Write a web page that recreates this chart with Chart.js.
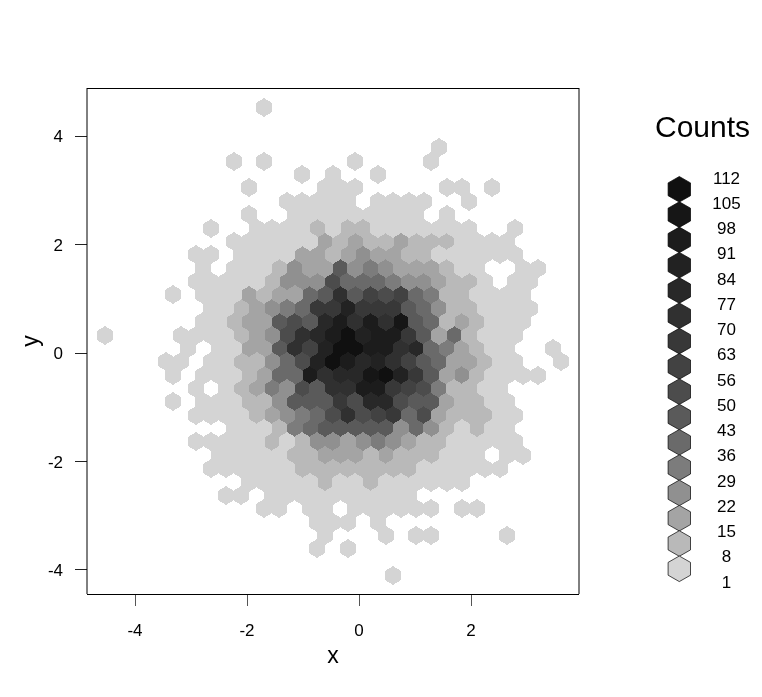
<!DOCTYPE html>
<html>
<head>
<meta charset="utf-8">
<title>Counts</title>
<script src="https://cdn.jsdelivr.net/npm/chart.js@4"></script>
<style>
  html, body { margin: 0; background: #fff; }
  canvas { display: block; }
</style>
</head>
<body>
<canvas id="hexChart" width="762" height="697"></canvas>
<script>
// Hex column centres (x units), half a column apart: odd rows use odd entries
const colX = [
    -4.559, -4.423, -4.287, -4.152, -4.016, -3.880, -3.745, -3.609, -3.473, -3.337, -3.202,
    -3.066, -2.930, -2.795, -2.659, -2.523, -2.388, -2.252, -2.116, -1.980, -1.845, -1.709,
    -1.573, -1.438, -1.302, -1.166, -1.031, -0.895, -0.759, -0.623, -0.488, -0.352, -0.216,
    -0.081, 0.055, 0.191, 0.327, 0.462, 0.598, 0.734, 0.869, 1.005, 1.141, 1.276, 1.412,
    1.548, 1.684, 1.819, 1.955, 2.091, 2.226, 2.362, 2.498, 2.633, 2.769, 2.905, 3.041,
    3.176, 3.312, 3.448, 3.583
];
const colOffset = 21; // colX index of the column that rowStart calls 0

// Hex row centres (y units), top to bottom
const rowY = [
    4.526, 4.279, 4.033, 3.786, 3.539, 3.293, 3.046, 2.799, 2.553, 2.306, 2.059, 1.813,
    1.566, 1.319, 1.073, 0.826, 0.579, 0.332, 0.086, -0.161, -0.408, -0.654, -0.901, -1.148,
    -1.394, -1.641, -1.888, -2.134, -2.381, -2.628, -2.874, -3.121, -3.368, -3.615, -3.861, -4.108
];

// First column of each row
const rowStart = [
    0, 0, 0, 23, -4, 5, -2, 3, -2, -7, -4, -9, -8, -9, -12, -7, -8, -21,
    -10, -13, -12, -9, -12, -9, -4, -9, -6, -7, -2, -5, 0, 7, 8, 7, 0, 17
];

// Counts read per row, every second column from rowStart (0 = empty)
const rowCounts = [
    [3],
    [],
    [],
    [3],
    [3,0,3,0,0,0,0,0,3,0,0,0,0,3],
    [3,0,3,0,0,3],
    [3,0,0,0,0,3,3,3,0,0,0,0,0,3,3,0,3],
    [3,3,3,3,3,0,3,3,3,3,0,0,3],
    [3,0,0,3,3,3,3,3,3,3,3,3,0,3],
    [3,0,0,3,3,3,3,11,3,11,11,3,3,3,3,3,3,3,0,0,3],
    [3,3,3,3,3,3,18,11,18,11,11,18,11,11,11,3,3,3,3],
    [3,3,0,3,3,3,3,18,18,11,18,25,18,18,11,11,3,3,3,3,3,3],
    [3,0,3,3,3,11,25,18,18,46,25,32,25,18,18,18,11,3,3,0,0,3,3],
    [3,3,3,3,3,11,25,25,25,53,39,39,39,32,25,25,18,11,11,3,0,3,3],
    [3,0,3,3,3,18,11,18,18,39,46,73,46,59,53,59,39,32,11,11,3,3,3,3],
    [3,3,11,18,25,32,39,66,66,87,66,66,66,46,39,25,11,11,3,3,3,3],
    [3,3,11,18,18,46,53,46,80,94,73,94,73,101,46,39,11,18,11,3,3,3],
    [3,0,0,0,0,3,3,3,3,11,18,25,53,73,80,94,108,87,94,94,66,46,18,39,11,3,3,3],
    [3,0,3,3,18,18,46,73,59,87,108,108,94,94,73,80,39,32,18,11,3,3,0,0,3],
    [3,3,0,3,3,11,11,25,39,53,87,108,94,80,87,73,59,46,39,18,18,11,3,3,0,0,3],
    [3,0,3,3,3,11,18,39,39,94,73,80,80,101,108,87,66,46,18,25,11,3,3,3,3],
    [3,0,3,11,18,32,25,53,46,73,73,94,94,66,59,53,32,11,11,3,3],
    [3,0,3,3,3,11,11,25,46,46,46,66,53,80,80,53,46,46,18,11,11,3,3],
    [3,3,3,3,11,18,25,32,39,53,73,53,59,66,39,53,18,11,11,11,3,3],
    [3,3,3,11,32,39,46,46,46,46,46,25,39,25,11,3,11,3,3],
    [3,3,3,3,3,11,3,11,25,25,18,25,32,25,18,11,11,3,3,3,3,3],
    [3,3,3,3,3,11,11,18,18,18,11,18,11,11,11,3,3,3,0,3,3],
    [3,3,3,3,3,3,11,11,11,11,11,11,11,11,3,3,3,3,3,3],
    [3,3,3,3,3,11,3,3,11,3,3,3,3,3,3],
    [3,3,0,3,3,3,3,3,3,3,3,3,3],
    [3,3,0,3,3,0,3,3,3,3,3,3,0,3,3],
    [3,3,3,0,3],
    [3,0,0,0,3,0,3,3,0,0,0,0,3],
    [3,0,3],
    [],
    [3]
];

// Legend: lower edge of each grey class, and its grey
const countBreaks = [1, 8, 15, 22, 29, 36, 43, 50, 56, 63, 70, 77, 84, 91, 98, 105, 112];
const binColors = [
    '#d4d4d4', '#b9b9b9', '#a4a4a4', '#909090', '#7c7c7c', '#6a6a6a', '#5a5a5a', '#4c4c4c',
    '#424242', '#383838', '#303030', '#282828', '#222222', '#1c1c1c', '#161616', '#101010'
];
const xTickValues = [-4, -2, 0, 2];
const yTickValues = [-4, -2, 0, 2, 4];

const FONT = '"Liberation Sans", Arial, sans-serif';

function traceHex(g, cx, cy, w, h) {
    g.beginPath();
    g.moveTo(cx, cy - h / 2);
    g.lineTo(cx + w / 2, cy - h / 4);
    g.lineTo(cx + w / 2, cy + h / 4);
    g.lineTo(cx, cy + h / 2);
    g.lineTo(cx - w / 2, cy + h / 4);
    g.lineTo(cx - w / 2, cy - h / 4);
    g.closePath();
}

// Canvas used as point style for one grey class.
// Alpha is made hard so neighbouring cells leave no pale seams.
const hexImage = (color, w, h) => {
    const c = document.createElement('canvas');
    c.width = Math.ceil(w) + 4;
    c.height = Math.ceil(h) + 4;
    const g = c.getContext('2d');
    traceHex(g, c.width / 2, c.height / 2, w, h);
    g.fillStyle = color;
    g.fill();
    const img = g.getImageData(0, 0, c.width, c.height);
    const v = parseInt(color.slice(1, 3), 16);
    for (let i = 0; i < img.data.length; i += 4) {
        img.data[i] = img.data[i + 1] = img.data[i + 2] = v;
        img.data[i + 3] = img.data[i + 3] >= 100 ? 255 : 0;
    }
    g.putImageData(img, 0, 0);
    return c;
};

// Sort cells into one dataset per grey class
const binPoints = binColors.map(() => []);
rowCounts.forEach((counts, r) => {
    counts.forEach((count, i) => {
        if (!count) return;
        let bin = 0;
        while (bin < binColors.length - 1 && count >= countBreaks[bin + 1]) bin++;
        binPoints[bin].push({ x: colX[colOffset + rowStart[r] + i * 2], y: rowY[r], count });
    });
});

const datasets = binColors.map((color, i) => ({
    label: countBreaks[i] + '',
    data: binPoints[i],
    pointStyle: hexImage(color, 15.8, 18.4),
    pointRadius: 8,
    pointHoverRadius: 8,
    showLine: false
}));

// Box around the plot and the Counts key on the right
const framePlugin = {
    id: 'frame',
    beforeDatasetsDraw(chart) {
        chart.ctx.imageSmoothingEnabled = false;
    },
    afterDatasetsDraw(chart) {
        const { ctx, chartArea: a } = chart;
        ctx.save();
        ctx.strokeStyle = '#000';
        ctx.lineWidth = 1;
        ctx.beginPath();
        ctx.moveTo(a.left, a.top + 0.5);
        ctx.lineTo(a.right, a.top + 0.5);
        ctx.moveTo(a.right, a.top);
        ctx.lineTo(a.right, a.bottom);
        ctx.moveTo(a.right, a.bottom + 0.5);
        ctx.lineTo(a.left, a.bottom + 0.5);
        ctx.moveTo(a.left, a.bottom);
        ctx.lineTo(a.left, a.top);
        ctx.stroke();
        ctx.restore();
    }
};

const keyPlugin = {
    id: 'countsKey',
    afterDraw(chart) {
        const { ctx } = chart;
        ctx.save();
        ctx.fillStyle = '#000';
        ctx.textAlign = 'center';
        ctx.textBaseline = 'middle';
        ctx.font = '30px ' + FONT;
        ctx.fillText('Counts', 702.5, 129);
        // darkest on top
        binColors.slice().reverse().forEach((color, i) => {
            traceHex(ctx, 679.3, 189.3 + i * 25.3, 22.4, 25.6);
            ctx.fillStyle = color;
            ctx.fill();
            ctx.strokeStyle = '#000';
            ctx.lineWidth = 0.7;
            ctx.stroke();
        });
        ctx.fillStyle = '#000';
        ctx.font = '17px ' + FONT;
        countBreaks.slice().reverse().forEach((label, i) => {
            ctx.fillText(String(label), 726.5, 179 + i * 25.25);
        });
        ctx.restore();
    }
};

new Chart(document.getElementById('hexChart'), {
    type: 'scatter',
    data: { datasets },
    plugins: [framePlugin, keyPlugin],
    options: {
        responsive: false,
        animation: false,
        devicePixelRatio: 1,
        layout: { padding: { top: 88, right: 183, bottom: 0, left: 0 } },
        plugins: { legend: { display: false }, tooltip: { enabled: false } },
        scales: {
            x: {
                min: -4.875,
                max: 3.911,
                afterFit: (s) => { s.height = 103; },
                afterBuildTicks: (s) => { s.ticks = xTickValues.map((value) => ({ value })); },
                border: { display: false },
                grid: { drawOnChartArea: false, tickLength: 12, color: '#555' },
                ticks: { color: '#000', padding: 15, maxRotation: 0, labelOffset: -1, font: { family: FONT, size: 17 } },
                title: { display: true, text: 'x', color: '#000', padding: { top: 0, bottom: 27 }, font: { family: FONT, size: 23 } }
            },
            y: {
                min: -4.446,
                max: 4.889,
                afterFit: (s) => { s.width = 87; },
                afterBuildTicks: (s) => { s.ticks = yTickValues.map((value) => ({ value })); },
                border: { display: false },
                grid: { drawOnChartArea: false, tickLength: 12, color: '#222' },
                ticks: { color: '#000', padding: 12, labelOffset: 1.5, font: { family: FONT, size: 17 } },
                title: { display: true, text: 'y', color: '#000', padding: { top: 18, bottom: 0 }, font: { family: FONT, size: 23 } }
            }
        }
    }
});
</script>
</body>
</html>
